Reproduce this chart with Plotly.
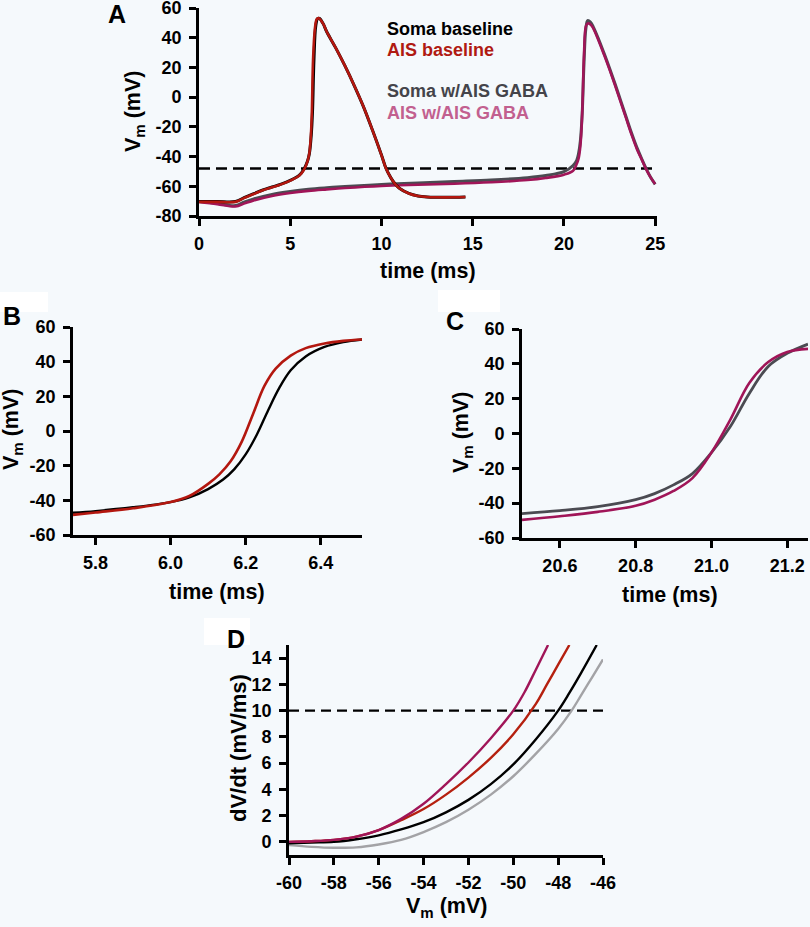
import plotly.graph_objects as go

W, H = 810, 927
BG = "#f5f9fc"
FONT = "Liberation Sans, Arial, Helvetica, sans-serif"

C_SOMA = "#000000"
C_AIS = "#b3170f"
C_SOMA_G = "#4b4b52"
C_AIS_G = "#a01558"
C_SOMA_G_D = "#a3a3a6"

# ---------------- Panel A data ----------------
a_t_soma = [0, 1, 2, 2.5, 3, 3.5, 4, 4.5, 5, 5.5, 5.75, 5.95, 6.05, 6.15, 6.22, 6.3, 6.4, 6.5, 6.6,
            6.8, 7.0, 7.5, 8.0, 8.5, 9.0, 9.5, 10.0, 10.25, 10.5, 10.75, 11.0, 11.5, 12.0, 12.5, 13.0, 14.0, 14.6]
a_v_soma = [-70.3, -70.3, -70.3, -67.5, -65, -62.5, -60.5, -58.5, -56, -52.5, -48.5, -43, -38, -26, -10, 25, 48, 52.8, 53,
            49.5, 44, 33, 21, 8, -6, -22, -39, -48, -54, -58.5, -61.5, -64.8, -66.5, -67.2, -67.4, -67.4, -67.2]
a_t_ais = [0, 1, 2, 2.5, 3, 3.5, 4, 4.5, 5, 5.5, 5.75, 5.95, 6.05, 6.12, 6.18, 6.25, 6.35, 6.45, 6.55,
           6.8, 7.0, 7.5, 8.0, 8.5, 9.0, 9.5, 10.0, 10.25, 10.5, 10.75, 11.0, 11.5, 12.0, 12.5, 13.0, 14.0, 14.6]
a_v_ais = [-70.5, -70.5, -70.5, -67.7, -65.2, -62.7, -60.7, -58.7, -56.2, -52.8, -49, -43, -37.5, -28, -12, 25, 46, 52.5, 53.2,
           49.5, 44, 33, 21, 8, -6, -22, -39, -48, -54, -58.5, -61.5, -64.8, -66.5, -67.2, -67.4, -67.4, -67.2]
a_t_soma_g = [0, 1, 2, 2.5, 3, 4, 5, 6, 7, 8, 10, 12, 14, 16, 18, 19, 20, 20.5, 20.7, 20.8, 20.9,
              21.0, 21.1, 21.2, 21.3, 21.45, 21.6, 21.9, 22.2, 22.5, 22.8, 23.1, 23.4, 23.7, 24.0, 24.3, 24.5, 24.75, 25.0]
a_v_soma_g = [-70.2, -71.5, -73, -70.5, -68.5, -65.5, -63.5, -62, -61, -60.2, -58.8, -57.8, -56.8, -55.8, -54.2, -52.8, -50.2,
              -46, -42.5, -38, -29.5, -11, 23, 46, 51.5, 50.5, 47.5, 39, 29.5, 19.5, 9, -2, -13, -24, -34, -42.5, -48, -54, -58.7]
a_t_ais_g = [0, 1, 2, 2.5, 3, 4, 5, 6, 7, 8, 10, 12, 14, 16, 18, 19, 20, 20.5, 20.7, 20.8, 20.9,
             21.0, 21.1, 21.2, 21.3, 21.45, 21.6, 21.9, 22.2, 22.5, 22.8, 23.1, 23.4, 23.7, 24.0, 24.3, 24.5, 24.75, 25.0]
a_v_ais_g = [-70.6, -72, -73.6, -71.5, -69.5, -66.5, -64.5, -63.1, -62.1, -61.2, -59.8, -59, -58.3, -57.3, -55.8, -54.4, -52.2,
             -49.6, -45, -41.5, -33, -11, 29, 47.6, 49.6, 49, 46.5, 38, 28.5, 18.5, 8, -3, -14, -25, -35, -43, -48.5, -54, -58.5]
a_threshold = -48
a_xrange = [0, 25.1]
a_xticks = [0, 5, 10, 15, 20, 25]
a_yticks = [-80, -60, -40, -20, 0, 20, 40, 60]

# ---------------- Panel B data ----------------
b_t_soma = [5.74, 5.8, 5.9, 6.0, 6.05, 6.1, 6.14, 6.17, 6.2, 6.23, 6.26, 6.29, 6.32, 6.36, 6.41, 6.46, 6.51]
b_v_soma = [-47.2, -46.2, -44, -41, -38.3, -33.5, -28, -22, -13.5, -2, 12, 25, 35, 43, 48.5, 51.3, 52.8]
b_t_ais = [5.74, 5.8, 5.9, 6.0, 6.05, 6.1, 6.13, 6.16, 6.19, 6.22, 6.25, 6.28, 6.32, 6.36, 6.41, 6.46, 6.51]
b_v_ais = [-48.4, -47, -44.6, -41, -37.5, -30.5, -25, -17.5, -6, 10, 26, 36, 43.5, 47.8, 50.5, 52, 52.8]
b_xticks = [5.8, 6.0, 6.2, 6.4]
b_xticktext = ["5.8", "6.0", "6.2", "6.4"]
bc_yticks = [-60, -40, -20, 0, 20, 40, 60]

# ---------------- Panel C data ----------------
c_t_soma_g = [20.5, 20.6, 20.7, 20.8, 20.85, 20.9, 20.95, 21.0, 21.05, 21.1, 21.15, 21.2, 21.255]
c_v_soma_g = [-46, -44.3, -42, -38, -34.5, -29.5, -23, -11, 4, 23, 38.5, 46, 51.3]
c_t_ais_g = [20.5, 20.6, 20.7, 20.8, 20.85, 20.9, 20.95, 21.0, 21.05, 21.1, 21.15, 21.2, 21.255]
c_v_ais_g = [-49.6, -47.5, -45, -41.5, -38, -33, -25.6, -11, 8, 29, 41, 46.8, 48.6]
c_xticks = [20.6, 20.8, 21.0, 21.2]
c_xticktext = ["20.6", "20.8", "21.0", "21.2"]

# ---------------- Panel D data ----------------
d_v_ais_g = [-60, -59, -58, -57, -56, -55, -54, -53, -52, -51, -50, -49.5, -49, -48.45]
d_dvdt_ais_g = [0.0, 0.05, 0.15, 0.4, 0.9, 1.75, 2.9, 4.4, 6.05, 7.9, 10.0, 11.4, 13.1, 15]
d_v_ais = [-60, -59, -58, -57, -56, -55, -54, -53, -52, -51, -50, -49, -48.5, -48, -47.5]
d_dvdt_ais = [0.0, 0.05, 0.15, 0.4, 0.9, 1.65, 2.5, 3.6, 4.9, 6.4, 8.2, 10.5, 12.0, 13.5, 15]
d_v_soma = [-60, -59, -58, -57, -56, -55, -54, -53, -52, -51, -50, -49, -48, -47.5, -47, -46.28]
d_dvdt_soma = [-0.1, -0.05, 0.0, 0.2, 0.5, 0.95, 1.5, 2.25, 3.2, 4.4, 5.9, 7.8, 10.0, 11.35, 12.8, 15]
d_v_soma_g = [-60, -59, -58, -57, -56, -55, -54, -53, -52, -51, -50, -49, -48, -47.4, -47, -46.5, -46]
d_dvdt_soma_g = [-0.25, -0.38, -0.45, -0.42, -0.2, 0.15, 0.75, 1.5, 2.45, 3.6, 5.0, 6.7, 8.6, 10.0, 11.1, 12.5, 13.9]
d_threshold = 10
d_xrange = [-60, -46]
d_xticks = [-60, -58, -56, -54, -52, -50, -48, -46]
d_yticks = [0, 2, 4, 6, 8, 10, 12, 14]

legend_labels = ["Soma baseline", "AIS baseline", "Soma w/AIS GABA", "AIS w/AIS GABA"]
legend_colors = ["#000000", "#b01a12", "#44444a", "#c2608f"]


def lbl(vals):
    # ASCII hyphen for negatives, as in the original figure
    return [str(v) for v in vals]


def px(x):
    return x / W


def py(y):
    return 1 - y / H


fig = go.Figure()


def line(x, y, color, xa, ya, width=2.6, dash=None, shape="spline"):
    fig.add_trace(go.Scatter(x=x, y=y, mode="lines", xaxis=xa, yaxis=ya,
                             line=dict(color=color, width=width, dash=dash,
                                       shape=shape, smoothing=1.0 if shape == "spline" else None),
                             showlegend=False, hoverinfo="skip"))


# Panel A
line(a_xrange, [a_threshold, a_threshold], "#000000", "x", "y", width=2.4, dash="11px,6px", shape="linear")
line(a_t_soma_g, a_v_soma_g, C_SOMA_G, "x", "y", width=3)
line(a_t_ais_g, a_v_ais_g, C_AIS_G, "x", "y", width=2.6)
line(a_t_soma, a_v_soma, C_SOMA, "x", "y", width=3)
line(a_t_ais, a_v_ais, C_AIS, "x", "y", width=2.6)

# Panel B
line(b_t_soma, b_v_soma, C_SOMA, "x2", "y2", width=2.4)
line(b_t_ais, b_v_ais, C_AIS, "x2", "y2", width=2.6)

# Panel C
line(c_t_soma_g, c_v_soma_g, C_SOMA_G, "x3", "y3", width=2.8)
line(c_t_ais_g, c_v_ais_g, C_AIS_G, "x3", "y3", width=2.6)

# Panel D
line(d_xrange, [d_threshold, d_threshold], "#000000", "x4", "y4", width=2.4, dash="10px,6px", shape="linear")
line(d_v_soma_g, d_dvdt_soma_g, C_SOMA_G_D, "x4", "y4", width=2.4)
line(d_v_soma, d_dvdt_soma, C_SOMA, "x4", "y4", width=2.4)
line(d_v_ais, d_dvdt_ais, "#b5200f", "x4", "y4", width=2.4)
line(d_v_ais_g, d_dvdt_ais_g, C_AIS_G, "x4", "y4", width=2.4)

tickfont = dict(family=FONT, size=18, color="#000000", weight="bold")


def axis(domain, rng, tickvals, ticktext, standoff=4):
    return dict(domain=domain, range=rng, tickvals=tickvals, ticktext=ticktext, showgrid=False, zeroline=False,
                showline=True, linecolor="#000000", linewidth=2.6, ticks="outside", ticklen=7,
                tickwidth=2.6, tickcolor="#000000", tickfont=tickfont, fixedrange=True,
                ticklabelstandoff=standoff, automargin=False, ticklabeloverflow="allow")


XSO = 3
fig.update_layout(
    width=W, height=H, margin=dict(l=0, r=0, t=0, b=0, autoexpand=False),
    paper_bgcolor=BG, plot_bgcolor=BG, showlegend=False,
    xaxis=axis([px(199), px(657)], a_xrange, a_xticks, lbl(a_xticks), standoff=XSO),
    yaxis=axis([py(216), py(8)], [-80, 60], a_yticks, lbl(a_yticks)),
    xaxis2=dict(axis([px(73), px(362)], [5.74, 6.51], b_xticks, b_xticktext, standoff=XSO), anchor="y2"),
    yaxis2=dict(axis([py(535), py(327)], [-60, 60], bc_yticks, lbl(bc_yticks)), anchor="x2"),
    xaxis3=dict(axis([px(522), px(808)], [20.5, 21.255], c_xticks, c_xticktext, standoff=XSO), anchor="y3"),
    yaxis3=dict(axis([py(538), py(329)], [-60, 60], bc_yticks, lbl(bc_yticks)), anchor="x3"),
    xaxis4=dict(axis([px(289), px(603)], d_xrange, d_xticks, lbl(d_xticks), standoff=XSO), anchor="y4"),
    yaxis4=dict(axis([py(855), py(645)], [-1, 15], d_yticks, lbl(d_yticks)), anchor="x4"),
)

# white patches behind panel letters
for (x0, y0, x1, y1) in [(0, 292, 48, 312), (438, 290, 500, 312), (204, 618, 250, 645)]:
    fig.add_shape(type="rect", xref="paper", yref="paper", x0=px(x0), x1=px(x1), y0=py(y1), y1=py(y0),
                  fillcolor="#ffffff", line=dict(width=0), layer="below")


def text(x, y, s, size=21.5, color="#000000", angle=0, xanchor="center"):
    fig.add_annotation(x=px(x), y=py(y), xref="paper", yref="paper", text=s, showarrow=False,
                       textangle=angle, xanchor=xanchor, yanchor="middle",
                       font=dict(family=FONT, size=size, color=color, weight="bold"))


# panel letters
text(117, 14, "A", size=25)
text(12, 316, "B", size=25)
text(455, 321, "C", size=25)
text(236, 639, "D", size=25)

# axis titles
text(134, 112, "V<sub>m</sub> (mV)", angle=-90)
text(428, 271, "time (ms)")
text(13, 430, "V<sub>m</sub> (mV)", angle=-90)
text(217, 592, "time (ms)")
text(462, 433, "V<sub>m</sub> (mV)", angle=-90)
text(670, 595, "time (ms)")
text(238, 748, "dV/dt (mV/ms)", size=22, angle=-90)
text(447, 907, "V<sub>m</sub> (mV)")

# legend texts
for lb, col, yy in zip(legend_labels, legend_colors, [29, 50, 91, 113]):
    text(385, yy, lb, size=18, color=col, xanchor="left")

fig.write_html("out.html", config={"displayModeBar": False},
               post_script="document.body.style.margin='0';document.body.style.overflow='hidden';")
